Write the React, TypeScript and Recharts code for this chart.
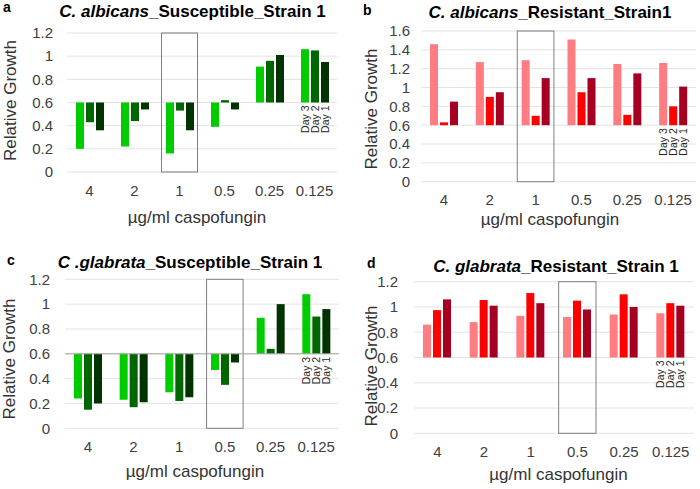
import React from "react";
import {
  BarChart,
  Bar,
  XAxis,
  YAxis,
  CartesianGrid,
  ReferenceArea,
  ReferenceLine,
} from "recharts";

const doses = ["4", "2", "1", "0.5", "0.25", "0.125"];
const dayNames = ["Day 3", "Day 2", "Day 1"];
const BASE = 0.6;

// C. albicans susceptible
const albSuscDay3 = [0.2, 0.22, 0.16, 0.39, 0.91, 1.06];
const albSuscDay2 = [0.43, 0.44, 0.53, 0.62, 0.96, 1.05];
const albSuscDay1 = [0.36, 0.54, 0.36, 0.54, 1.01, 0.95];

// C. albicans resistant
const albResDay3 = [1.46, 1.27, 1.29, 1.51, 1.25, 1.26];
const albResDay2 = [0.63, 0.9, 0.7, 0.95, 0.71, 0.8];
const albResDay1 = [0.85, 0.95, 1.1, 1.1, 1.15, 1.01];

// C. glabrata susceptible
const glaSuscDay3 = [0.24, 0.23, 0.29, 0.47, 0.89, 1.08];
const glaSuscDay2 = [0.15, 0.17, 0.22, 0.35, 0.64, 0.9];
const glaSuscDay1 = [0.2, 0.21, 0.25, 0.53, 1.0, 0.96];

// C. glabrata resistant
const glaResDay3 = [0.86, 0.88, 0.93, 0.92, 0.94, 0.95];
const glaResDay2 = [0.975, 1.055, 1.11, 1.05, 1.1, 1.03];
const glaResDay1 = [1.06, 1.01, 1.03, 0.98, 1.0, 1.01];

const ticks12 = [0, 0.2, 0.4, 0.6, 0.8, 1, 1.2];
const ticks16 = [0, 0.2, 0.4, 0.6, 0.8, 1, 1.2, 1.4, 1.6];

const greens = ["#00cc00", "#006600", "#003300"];
const reds = ["#ff7c80", "#ff0000", "#a50021"];

const FONT = "'Liberation Sans', Arial, sans-serif";

const makeRows = (d3: number[], d2: number[], d1: number[]) =>
  doses.map((dose, i) => ({ dose, day3: d3[i], day2: d2[i], day1: d1[i] }));

function DayBar(props: any) {
  const { x, y, width, height, fill, index, day } = props;
  const top = Math.min(y, y + height);
  const h = Math.abs(height);
  const base = y + height;
  return (
    <g>
      <rect x={x} y={top} width={width} height={h} fill={fill} />
      {index === doses.length - 1 && (
        <text
          transform={`translate(${x + width / 2}, ${base + 3}) rotate(-90)`}
          textAnchor="end"
          dominantBaseline="central"
          fontSize={10.5}
          fontFamily={FONT}
          fill="#262626"
        >
          {day}
        </text>
      )}
    </g>
  );
}

const InsetBox = (p: any) => {
  const inset = p.width * 0.1;
  return (
    <rect
      x={p.x + inset}
      y={p.y}
      width={p.width - 2 * inset}
      height={p.height}
      fill="none"
      stroke="#7f7f7f"
      strokeWidth={1}
    />
  );
};

interface PanelProps {
  left: number;
  top: number;
  width: number;
  height: number;
  rows: any[];
  colors: string[];
  ticks: number[];
  margin: { top: number; right: number; bottom: number };
  yWidth: number;
  yGap: number;
  boxDose: string;
  axisAt06?: boolean;
}

function Panel(p: PanelProps) {
  const yMax = p.ticks[p.ticks.length - 1];
  const keys = ["day3", "day2", "day1"];
  return (
    <div style={{ position: "absolute", left: p.left, top: p.top }}>
      <BarChart
        width={p.width}
        height={p.height}
        data={p.rows}
        margin={{ ...p.margin, left: 0 }}
        barGap={2}
      >
        <CartesianGrid vertical={false} stroke="#e3e3e3" />
        <XAxis
          dataKey="dose"
          axisLine={false}
          tickLine={false}
          tickSize={0}
          tickMargin={13}
          height={40}
          interval={0}
          tick={{ fontSize: 15, fill: "#404040", fontFamily: FONT }}
        />
        <YAxis
          domain={[0, yMax]}
          ticks={p.ticks}
          interval={0}
          width={p.yWidth}
          axisLine={false}
          tickLine={false}
          tickSize={0}
          tickMargin={p.yGap}
          tickFormatter={(v: number) => String(Number(v.toFixed(1)))}
          tick={{ fontSize: 15, fill: "#404040", fontFamily: FONT }}
        />
        {p.axisAt06 && <ReferenceLine y={BASE} stroke="#a6a6a6" strokeWidth={1} />}
        {keys.map((k, i) => (
          <Bar
            key={k}
            dataKey={(d: any) => [BASE, d[k]]}
            fill={p.colors[i]}
            barSize={8}
            isAnimationActive={false}
            shape={(sp: any) => <DayBar {...sp} day={dayNames[i]} />}
          />
        ))}
        <ReferenceArea
          x1={p.boxDose}
          x2={p.boxDose}
          y1={0}
          y2={yMax}
          shape={InsetBox}
        />
      </BarChart>
    </div>
  );
}

const titleStyle = { fontSize: 17, fontWeight: "bold" as const, fill: "#000" };
const axisTitle = { fontSize: 17, fill: "#333" };

export default function App() {
  return (
    <div
      style={{
        position: "absolute",
        left: 0,
        top: 0,
        width: 700,
        height: 489,
        background: "#fff",
        fontFamily: FONT,
      }}
    >
      <Panel
        left={0}
        top={0}
        width={350}
        height={245}
        rows={makeRows(albSuscDay3, albSuscDay2, albSuscDay1)}
        colors={greens}
        ticks={ticks12}
        margin={{ top: 33, right: 13, bottom: 33 }}
        yWidth={67}
        yGap={14}
        boxDose="1"
      />
      <Panel
        left={350}
        top={0}
        width={350}
        height={245}
        rows={makeRows(albResDay3, albResDay2, albResDay1)}
        colors={reds}
        ticks={ticks16}
        margin={{ top: 31, right: 4, bottom: 23.3 }}
        yWidth={71}
        yGap={11}
        boxDose="1"
      />
      <Panel
        left={0}
        top={245}
        width={350}
        height={244}
        rows={makeRows(glaSuscDay3, glaSuscDay2, glaSuscDay1)}
        colors={greens}
        ticks={ticks12}
        margin={{ top: 34.3, right: 11, bottom: 20.7 }}
        yWidth={65}
        yGap={15}
        boxDose="0.5"
        axisAt06
      />
      <Panel
        left={350}
        top={245}
        width={350}
        height={244}
        rows={makeRows(glaResDay3, glaResDay2, glaResDay1)}
        colors={reds}
        ticks={ticks12}
        margin={{ top: 36.7, right: 6, bottom: 15.7 }}
        yWidth={64}
        yGap={16}
        boxDose="0.5"
      />
      <svg
        width={700}
        height={489}
        style={{ position: "absolute", left: 0, top: 0, pointerEvents: "none" }}
        fontFamily={FONT}
      >
        {/* panel letters */}
        <text x={3} y={12} fontSize={14} fontWeight="bold">a</text>
        <text x={363} y={15} fontSize={14} fontWeight="bold">b</text>
        <text x={7} y={265} fontSize={14} fontWeight="bold">c</text>
        <text x={367} y={268} fontSize={14} fontWeight="bold">d</text>

        {/* titles */}
        <text x={192.5} y={17.3} textAnchor="middle" {...titleStyle}>
          <tspan fontStyle="italic">C. albicans</tspan>_Susceptible_Strain 1
        </text>
        <text x={550} y={18} textAnchor="middle" {...titleStyle}>
          <tspan fontStyle="italic">C. albicans</tspan>_Resistant_Strain1
        </text>
        <text x={190} y={268} textAnchor="middle" {...titleStyle}>
          <tspan fontStyle="italic">C .glabrata</tspan>_Susceptible_Strain 1
        </text>
        <text x={556} y={272} textAnchor="middle" {...titleStyle}>
          <tspan fontStyle="italic">C. glabrata</tspan>_Resistant_Strain 1
        </text>

        {/* axis titles */}
        <text x={197} y={222.5} textAnchor="middle" {...axisTitle}>µg/ml caspofungin</text>
        <text x={550} y={224.5} textAnchor="middle" {...axisTitle}>µg/ml caspofungin</text>
        <text x={195} y={477} textAnchor="middle" {...axisTitle}>µg/ml caspofungin</text>
        <text x={558.5} y={479.5} textAnchor="middle" {...axisTitle}>µg/ml caspofungin</text>

        <text transform="translate(10,100.5) rotate(-90)" textAnchor="middle" dominantBaseline="central" {...axisTitle}>Relative Growth</text>
        <text transform="translate(371.7,109) rotate(-90)" textAnchor="middle" dominantBaseline="central" {...axisTitle}>Relative Growth</text>
        <text transform="translate(9.3,359) rotate(-90)" textAnchor="middle" dominantBaseline="central" {...axisTitle}>Relative Growth</text>
        <text transform="translate(371.7,366) rotate(-90)" textAnchor="middle" dominantBaseline="central" {...axisTitle}>Relative Growth</text>
      </svg>
    </div>
  );
}
